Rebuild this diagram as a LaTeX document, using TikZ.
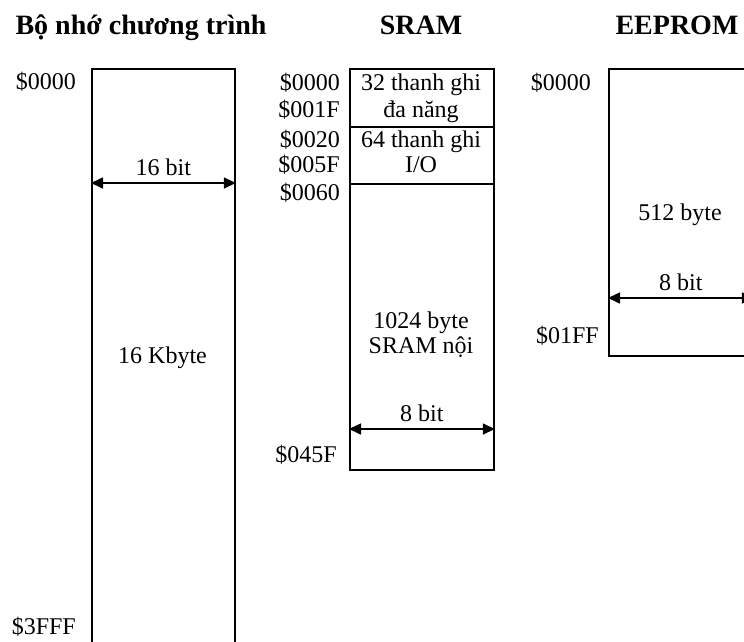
\documentclass[tikz,border=0pt]{standalone}
\usepackage{fontspec}
\setmainfont{Liberation Serif}
\usetikzlibrary{arrows.meta}
\begin{document}
\begin{tikzpicture}[x=1pt,y=-1pt,
  mem/.style={draw, line width=1.8pt, inner sep=0pt, anchor=north west},
  txt/.style={inner sep=0pt, font=\fontsize{24}{27}\selectfont},
  ttl/.style={inner sep=0pt, font=\fontsize{28}{32}\selectfont\bfseries, anchor=base},
  dim/.style={line width=1.6pt, {Triangle[length=12pt,width=11pt]}-{Triangle[length=12pt,width=11pt]}}]
\useasboundingbox (0,0) rectangle (744,641);
% titles
\node[ttl] (t1) at (141,34) {Bộ nhớ chương trình};
\node[ttl] (t2) at (421,34) {SRAM};
\node[ttl] (t3) at (677,34) {EEPROM};
% program memory
\node[mem, minimum width=143pt, minimum height=600pt] (prog) at (91,68) {};
\node[txt, anchor=base east] (p0) at (76,89) {\$0000};
\node[txt, anchor=base east] (p1) at (76,634) {\$3FFF};
\node[txt, anchor=base] (pk) at (162.5,363) {16 Kbyte};
\coordinate (pa) at (91,183);
\draw[dim] (pa) -- (pa -| prog.east) node[midway, above=6pt, txt] (pb) {16 bit};
% SRAM
\node[mem, minimum width=144pt, minimum height=58pt] (s1) at (349,68) {};
\node[mem, minimum width=144pt, minimum height=57pt] (s2) at (349,126) {};
\node[mem, minimum width=144pt, minimum height=286pt] (s3) at (349,183) {};
\node[txt, anchor=base] at (421,90) {32 thanh ghi};
\node[txt, anchor=base] at (421,117) {đa năng};
\node[txt, anchor=base] at (421,147) {64 thanh ghi};
\node[txt, anchor=base] at (421,172) {I/O};
\node[txt, anchor=base east] at (340,90) {\$0000};
\node[txt, anchor=base east] at (340,117) {\$001F};
\node[txt, anchor=base east] at (340,147) {\$0020};
\node[txt, anchor=base east] at (340,172) {\$005F};
\node[txt, anchor=base east] at (340,200) {\$0060};
\node[txt, anchor=base east] at (337,462) {\$045F};
\node[txt, anchor=base] at (421,328) {1024 byte};
\node[txt, anchor=base] at (421,353) {SRAM nội};
\coordinate (sa) at (349,429);
\draw[dim] (sa) -- (sa -| s3.east) node[midway, above=6pt, txt] {8 bit};
% EEPROM
\node[mem, minimum width=144pt, minimum height=287pt] (ee) at (608,68) {};
\node[txt, anchor=base east] at (591,90) {\$0000};
\node[txt, anchor=base east] at (599,343) {\$01FF};
\node[txt, anchor=base] at (680,220) {512 byte};
\coordinate (ea) at (608,298);
\draw[dim] (ea) -- (ea -| ee.east) node[midway, above=6pt, txt] {8 bit};
\end{tikzpicture}
\end{document}
